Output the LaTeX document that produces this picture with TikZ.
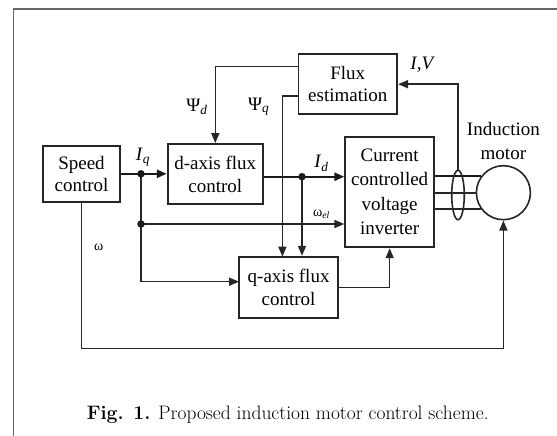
\documentclass[tikz,border=0pt]{standalone}
\usepackage{fontspec}
\setmainfont{Liberation Serif}
\newfontfamily\capfont{Latin Modern Roman}
\usetikzlibrary{arrows.meta,shapes.geometric}
\begin{document}
\begin{tikzpicture}[x=1pt,y=-1pt,
  blk/.style={draw=black!85,line width=1.8pt,inner sep=0pt,align=center,
    font=\fontsize{19}{22.5}\selectfont},
  wire/.style={draw=black!85,line width=1.5pt},
  thk/.style={draw=black!90,line width=2.4pt},
  arr/.style={-{Triangle[length=10pt,width=8pt]}},
  dotn/.style={circle,fill=black!90,inner sep=0pt,minimum size=7.5pt},
  lbl/.style={inner sep=0pt,font=\fontsize{19}{22}\selectfont},
  slbl/.style={inner sep=0pt,font=\fontsize{14}{16}\selectfont}]
\useasboundingbox (0,0) rectangle (557,436);
% frame
\draw[black!60,line width=1.8pt] (13.5,436) -- (13.5,9.3) -- (557,9.3);
% blocks
\node[blk,minimum width=76.4pt,minimum height=55.7pt] (sc) at (81.5,173.8) {Speed\\control};
\node[blk,minimum width=95.2pt,minimum height=60.3pt] (dx) at (215.3,174.2) {d-axis flux\\control};
\node[blk,minimum width=98.8pt,minimum height=60.3pt] (fe) at (347.8,84.2) {Flux\\estimation};
\node[blk,minimum width=88.8pt,minimum height=110.6pt,font=\fontsize{19}{24.5}\selectfont] (inv) at (389.7,192) {Current\\controlled\\voltage\\inverter};
\node[blk,minimum width=99pt,minimum height=61.6pt] (qx) at (288.6,287.5) {q-axis flux\\control};
\node[circle,draw=black!85,line width=1.6pt,minimum size=54pt,inner sep=0pt] (mot) at (503.4,192.7) {};
\node[lbl,align=center,font=\fontsize{19}{24}\selectfont] (mtxt) at (503.4,141.3) {Induction\\motor};
% coordinates
\coordinate (j1) at (141,173.8);
\coordinate (j2) at (141,224);
\coordinate (qin) at (239.1,281.7);
\coordinate (jd) at (302,176.7);
\coordinate (fe1) at (298.4,66.7);
\coordinate (fe2) at (298.4,96);
\coordinate (qn2) at (282.4,256.7);
\coordinate (bot) at (503.4,348.3);
% connectors
\draw[thk,arr] (sc.east) -- (sc.east -| dx.west);
\draw[wire,arr] (j1) |- (qin);
\draw[wire,arr] (j2) -- (j2 -| inv.west);
\draw[thk,arr] (dx.east |- jd) -- (inv.west |- jd);
\draw[wire,arr] (jd) -- (jd |- qx.north);
\draw[wire,arr] (fe1) -| (dx.north);
\draw[wire,arr] (fe2) -| (qn2);
\draw[wire,arr] (qx.east) -| (inv.south);
\draw[wire,arr] (sc.south) |- (bot) -- (mot.south);
% motor lines
\draw[thk] (inv.east |- mot.143.7) -- (mot.143.7);
\draw[wire,line width=1.8pt] (inv.east |- mot.west) -- (mot.west);
\draw[wire,line width=1.8pt] (inv.east |- mot.216.3) -- (mot.216.3);
\node[ellipse,draw=black!85,line width=1.6pt,minimum width=12.6pt,minimum height=49.4pt,inner sep=0pt] (el) at (458,195) {};
\draw[wire,arr] (el.north) |- (fe.east);
% dots
\node[dotn] (d1) at (j1) {};
\node[dotn] (d2) at (j2) {};
\node[dotn] (d3) at (jd) {};
% labels
\node[lbl] (lIq) at (143,157) {\textit{I}\textsubscript{\textit{q}}};
\node[lbl] (lId) at (321.5,163.3) {\textit{I}\textsubscript{\textit{d}}};
\node[slbl] (lwe) at (321.5,214) {ω\textsubscript{\textit{el}}};
\node[lbl] (lpd) at (197,106.7) {Ψ\textsubscript{\textit{d}}};
\node[lbl] (lpq) at (258.6,106.7) {Ψ\textsubscript{\textit{q}}};
\node[lbl] (liv) at (422.7,65) {\textit{I,V}};
\node[slbl] (lw) at (98.8,247.3) {ω};
\node[inner sep=0pt,font=\capfont\fontsize{19.5}{22}\selectfont] (cap) at (287.7,415) {\textbf{Fig. 1.} Proposed induction motor control scheme.};
\end{tikzpicture}
\end{document}
